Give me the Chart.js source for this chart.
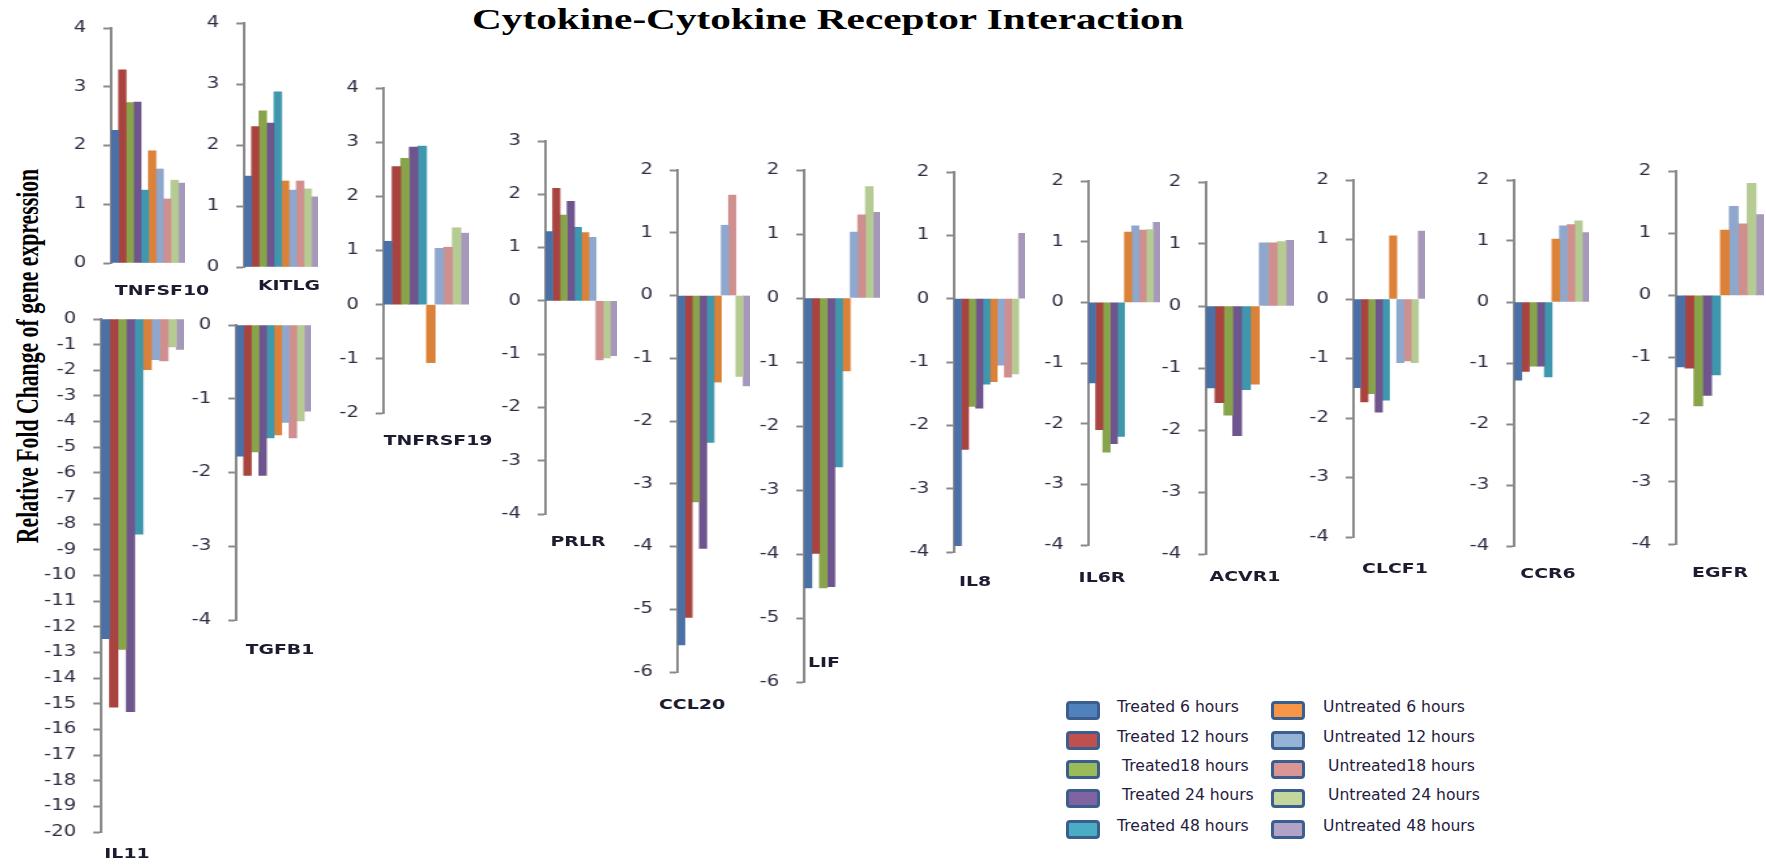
<!DOCTYPE html>
<html>
<head>
<meta charset="utf-8">
<script src="https://cdn.jsdelivr.net/npm/chart.js@4.4.1/dist/chart.umd.min.js"></script>
<style>
html,body{margin:0;padding:0;background:#ffffff;}
body{width:1766px;height:865px;position:relative;overflow:hidden;}
.panel{position:absolute;transform-origin:0 0;}
.panel canvas{display:block;}
.gene{position:absolute;font-family:"DejaVu Sans",sans-serif;font-weight:bold;font-size:14px;line-height:17px;color:#1c1c30;white-space:nowrap;transform:translate(-50%,-50%) scaleX(1.35);}
.title{position:absolute;left:472px;top:1px;font-family:"Liberation Serif","Times New Roman",serif;font-weight:bold;font-size:29px;line-height:36px;color:#000;white-space:nowrap;transform-origin:0 0;}
.ylab{position:absolute;font-family:"Liberation Serif","Times New Roman",serif;font-weight:bold;font-size:32px;line-height:32px;color:#000;white-space:nowrap;transform-origin:50% 50%;}
.lbox{position:absolute;width:28px;height:13px;border:3px solid #3c5e8e;border-radius:4px;}
.ltext{position:absolute;font-family:"DejaVu Sans",sans-serif;font-size:15px;line-height:18px;color:#1f2040;white-space:nowrap;transform-origin:0 50%;transform:scaleX(1.04);}
</style>
</head>
<body>
<div class="title" id="title">Cytokine-Cytokine Receptor Interaction</div>
<div class="ylab" id="ylab">Relative Fold Change of gene expression</div>
<script>
// ---------- data ----------
const genes = ['TNFSF10','KITLG','IL11','TGFB1','TNFRSF19','PRLR','CCL20','LIF','IL8','IL6R','ACVR1','CLCF1','CCR6','EGFR'];
const seriesNames = ['Treated 6 hours','Treated 12 hours','Treated18 hours','Treated 24 hours','Treated 48 hours',
                     'Untreated 6 hours','Untreated 12 hours','Untreated18 hours','Untreated 24 hours','Untreated 48 hours'];
const treated6h    = [2.26, 1.49, -12.46, -1.78, 1.17, 1.30, -5.57, -4.53, -3.90, -1.33, -1.32, -1.49, -1.28, -1.15];
const treated12h   = [3.29, 2.30, -15.13, -2.04, 2.55, 2.11, -5.13, -3.99, -2.38, -2.10, -1.56, -1.73, -1.14, -1.17];
const treated18h   = [2.73, 2.56, -12.88, -1.72, 2.70, 1.61, -3.29, -4.53, -1.70, -2.47, -1.76, -1.59, -1.05, -1.78];
const treated24h   = [2.74, 2.36, -15.31, -2.04, 2.91, 1.87, -4.03, -4.51, -1.73, -2.33, -2.09, -1.90, -1.05, -1.61];
const treated48h   = [1.24, 2.87,  -8.39, -1.53, 2.93, 1.38, -2.34, -2.64, -1.35, -2.21, -1.35, -1.70, -1.23, -1.28];
const untreated6h  = [1.91, 1.41,  -1.98, -1.49, -1.07, 1.28, -1.38, -1.14, -1.31, 1.16, -1.26, 1.06, 1.03, 1.05];
const untreated12h = [1.60, 1.26,  -1.59, -1.32, 1.04, 1.19, 1.12, 1.03, -1.05, 1.26, 1.02, -1.07, 1.25, 1.43];
const untreated18h = [1.09, 1.41,  -1.63, -1.53, 1.06, -1.11, 1.60, 1.30, -1.24, 1.19, 1.02, -1.04, 1.27, 1.15];
const untreated24h = [1.41, 1.28,  -1.09, -1.30, 1.42, -1.07, -1.29, 1.74, -1.19, 1.20, 1.04, -1.07, 1.33, 1.80];
const untreated48h = [1.36, 1.15,  -1.19, -1.17, 1.32, -1.03, -1.44, 1.34, 1.03, 1.32, 1.06, 1.14, 1.14, 1.30];
const yMin = [0, 0, -20, -4, -2, -4, -6, -6, -4, -4, -4, -4, -4, -4];
const yMax = [4, 4,   0,  0,  4,  3,  2,  2,  2,  2,  2,  2,  2,  2];
const tickStep = 1;

// ---------- styles / layout ----------
const series = [treated6h, treated12h, treated18h, treated24h, treated48h,
                untreated6h, untreated12h, untreated18h, untreated24h, untreated48h];
const barColors = ['#4a70a6','#a9433f','#88a44b','#6f558e','#3f97ae','#db8238','#8fa7cd','#cf8f8e','#b6cb93','#a698ba'];
const legendColors = ['#4f81bd','#c0504d','#9bbb59','#8064a2','#4bacc6','#f79646','#95b3d7','#d99694','#c3d69b','#b3a2c7'];
// axis x, top tick y, bottom tick y, bars right end, label center x/y
const layout = [
  {ax:110, ty:28,  by:263, bx:184,  lx:162,  ly:290},
  {ax:243, ty:23,  by:267, bx:317,  lx:289,  ly:285},
  {ax:100, ty:319, by:832, bx:183,  lx:127,  ly:853},
  {ax:235, ty:325, by:620, bx:310,  lx:280,  ly:649},
  {ax:383, ty:88,  by:413, bx:469,  lx:438,  ly:440},
  {ax:545, ty:141, by:514, bx:617,  lx:578,  ly:541},
  {ax:677, ty:170, by:672, bx:750,  lx:692,  ly:704},
  {ax:803, ty:170, by:682, bx:879,  lx:824,  ly:662},
  {ax:953, ty:172, by:552, bx:1024, lx:975,  ly:581},
  {ax:1088,ty:181, by:545, bx:1160, lx:1102, ly:577},
  {ax:1205,ty:182, by:554, bx:1293, lx:1245, ly:576},
  {ax:1353,ty:180, by:537, bx:1425, lx:1395, ly:568},
  {ax:1513,ty:180, by:546, bx:1588, lx:1548, ly:573},
  {ax:1675,ty:171, by:544, bx:1763, lx:1720, ly:572}
];
const K = 1.3;      // horizontal stretch of the panels
const AXW = 55;     // y-axis width (before stretch)
const PAD = 4;

genes.forEach((g, i) => {
  const L = layout[i];
  const div = document.createElement('div');
  div.className = 'panel';
  const setBox = (inL, inR, inT, inB) => {
    div.style.left = (L.ax - inL * K) + 'px';
    div.style.top = (L.ty - inT) + 'px';
    div.style.width = (inL + (L.bx - L.ax) / K + inR) + 'px';
    div.style.height = (L.by - L.ty + inT + inB) + 'px';
  };
  setBox(AXW, 0, 20, 20);
  div.style.transform = 'scaleX(' + K + ')';
  const cv = document.createElement('canvas');
  div.appendChild(cv);
  document.body.appendChild(div);

  const chart = new Chart(cv, {
    type: 'bar',
    data: {
      labels: [g],
      datasets: series.map((s, j) => ({
        label: seriesNames[j],
        data: [s[i]],
        backgroundColor: barColors[j],
        borderWidth: 0,
        barPercentage: 1,
        categoryPercentage: 1
      }))
    },
    options: {
      animation: false,
      responsive: true,
      maintainAspectRatio: false,
      layout: {padding: {top: PAD, bottom: PAD, left: 0, right: 0}},
      plugins: {legend: {display: false}, tooltip: {enabled: false}},
      scales: {
        x: {display: false},
        y: {
          min: yMin[i], max: yMax[i],
          afterFit(scale) { scale.width = AXW; },
          ticks: {stepSize: tickStep, autoSkip: false, padding: 13, color: '#2e2e44',
                  font: {family: 'DejaVu Sans', size: 15}},
          grid: {drawOnChartArea: false, drawTicks: true, tickLength: 6, tickColor: '#8a8a8a', tickWidth: 2},
          border: {display: true, color: '#8a8a8a', width: 2}
        }
      }
    }
  });
  // align the chart area exactly with the target axis extents
  const ca = chart.chartArea;
  const inT = ca.top, inB = chart.height - ca.bottom;
  const inL = ca.left, inR = chart.width - ca.right;
  setBox(inL, inR, inT, inB);
  chart.resize();

  const lab = document.createElement('div');
  lab.className = 'gene';
  lab.textContent = g;
  lab.style.left = L.lx + 'px';
  lab.style.top = L.ly + 'px';
  document.body.appendChild(lab);
});

// ---------- legend ----------
const legendRows = [710, 740, 769, 798, 829];
seriesNames.forEach((name, j) => {
  const col = j < 5 ? 0 : 1;
  const row = j % 5;
  const bx = col === 0 ? 1066 : 1271;
  const box = document.createElement('div');
  box.className = 'lbox';
  box.style.left = bx + 'px';
  box.style.top = (legendRows[row] - 9) + 'px';
  box.style.background = legendColors[j];
  document.body.appendChild(box);
  const t = document.createElement('div');
  t.className = 'ltext';
  t.textContent = name;
  const extra = /d18|\s24/.test(name) ? 5 : 0;
  t.style.left = ((col === 0 ? 1117 : 1323) + extra) + 'px';
  t.style.top = (legendRows[row] - 12) + 'px';
  document.body.appendChild(t);
});

// ---------- title & y label sizing ----------
const title = document.getElementById('title');
title.style.transform = 'scaleX(' + (711 / title.offsetWidth) + ')';
const yl = document.getElementById('ylab');
const w = yl.offsetWidth;
const cx = 26.5, cy = 356;
yl.style.left = (cx - w / 2) + 'px';
yl.style.top = (cy - 16) + 'px';
yl.style.transform = 'rotate(-90deg) scaleX(' + (374 / w) + ')';
</script>
</body>
</html>
